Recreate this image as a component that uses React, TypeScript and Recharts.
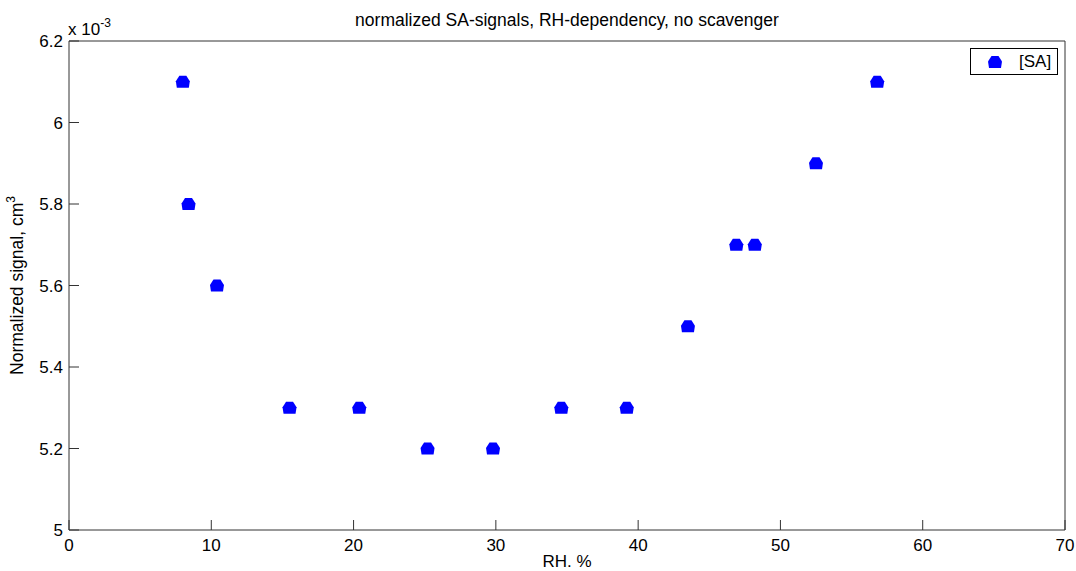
import { ScatterChart, Scatter, XAxis, YAxis, Legend } from "recharts";

const rh = [8.0, 8.4, 10.4, 15.5, 20.4, 25.2, 29.8, 34.6, 39.2, 43.5, 46.9, 48.2, 52.5, 56.8];
const signal = [6.1, 5.8, 5.6, 5.3, 5.3, 5.2, 5.2, 5.3, 5.3, 5.5, 5.7, 5.7, 5.9, 6.1];
const xTicks = [0, 10, 20, 30, 40, 50, 60, 70];
const yTicks = [5, 5.2, 5.4, 5.6, 5.8, 6, 6.2];

const data = rh.map((x, i) => ({ rh: x, sa: signal[i] }));

const FONT = "'Liberation Sans', Arial, sans-serif";
const AXIS = "#333";
const M = 8; // tick margin
const T = 10; // inward tick length

const BottomTick = ({ x, y, payload }: any) => (
  <g>
    <line x1={x} x2={x} y1={y - M} y2={y - M - T} stroke={AXIS} />
    <text x={x} y={y} dy="0.75em" textAnchor="middle" fontSize={17} fontFamily={FONT} fill="#000">
      {payload.value}
    </text>
  </g>
);

const LeftTick = ({ x, y, payload }: any) => (
  <g>
    <line x1={x + M} x2={x + M + T} y1={y} y2={y} stroke={AXIS} />
    <text x={x + 2} y={y} dy="0.36em" textAnchor="end" fontSize={17} fontFamily={FONT} fill="#000">
      {payload.value}
    </text>
  </g>
);

const TopTick = ({ x, y }: any) => (
  <line x1={x} x2={x} y1={y + M} y2={y + M + T} stroke={AXIS} />
);

const RightTick = ({ x, y }: any) => (
  <line x1={x - M} x2={x - M - T} y1={y} y2={y} stroke={AXIS} />
);

const Marker = ({ cx, cy }: any) => (
  <polygon
    points={`${cx - 3.5},${cy - 6} ${cx + 3.5},${cy - 6} ${cx + 7},${cy - 0.5} ${cx + 6},${cy + 6} ${cx - 6},${cy + 6} ${cx - 7},${cy - 0.5}`}
    fill="#0000ff"
  />
);

const YLabel = ({ viewBox }: any) => {
  const cy = viewBox.y + viewBox.height / 2;
  const cx = 23;
  return (
    <text
      x={cx}
      y={cy}
      transform={`rotate(-90 ${cx} ${cy})`}
      textAnchor="middle"
      fontSize={17.5}
      fontFamily={FONT}
      fill="#000"
    >
      Normalized signal, cm
      <tspan dy={-8} fontSize={12}>3</tspan>
    </text>
  );
};

const LegendBox = () => (
  <div
    style={{
      border: "1px solid #000",
      background: "#fff",
      height: 27,
      width: 88,
      boxSizing: "border-box",
      display: "flex",
      alignItems: "center",
      fontFamily: FONT,
      fontSize: 17,
    }}
  >
    <svg width={48} height={24}>
      <Marker cx={24} cy={12} />
    </svg>
    <span>[SA]</span>
  </div>
);

export default function App() {
  return (
    <div style={{ position: "absolute", left: 0, top: 0, width: 1076, height: 571, background: "#fff" }}>
      <ScatterChart width={1076} height={571} margin={{ top: 0, right: 0, bottom: 0, left: 0 }}>
        <XAxis
          xAxisId="b"
          type="number"
          dataKey="rh"
          domain={[0, 70]}
          ticks={xTicks}
          orientation="bottom"
          height={41}
          tickSize={0}
          tickMargin={M}
          tickLine={false}
          tick={<BottomTick />}
          stroke={AXIS}
          interval={0}
          label={{ value: "RH. %", position: "insideBottom", offset: 4, fontSize: 17, fontFamily: FONT, fill: "#000" }}
        />
        <XAxis
          xAxisId="t"
          type="number"
          dataKey="rh"
          domain={[0, 70]}
          ticks={xTicks}
          orientation="top"
          height={41}
          tickSize={0}
          tickMargin={M}
          tickLine={false}
          tick={<TopTick />}
          stroke={AXIS}
          interval={0}
        />
        <YAxis
          yAxisId="l"
          type="number"
          dataKey="sa"
          domain={[5, 6.2]}
          ticks={yTicks}
          orientation="left"
          width={69}
          tickSize={0}
          tickMargin={M}
          tickLine={false}
          tick={<LeftTick />}
          stroke={AXIS}
          interval={0}
          label={<YLabel />}
        />
        <YAxis
          yAxisId="r"
          type="number"
          dataKey="sa"
          domain={[5, 6.2]}
          ticks={yTicks}
          orientation="right"
          width={11}
          tickSize={0}
          tickMargin={M}
          tickLine={false}
          tick={<RightTick />}
          stroke={AXIS}
          interval={0}
        />
        <Legend
          layout="horizontal"
          verticalAlign="middle"
          content={<LegendBox />}
          wrapperStyle={{ top: 48, left: 970, width: 88 }}
        />
        <Scatter
          name="[SA]"
          data={data}
          xAxisId="b"
          yAxisId="l"
          shape={<Marker />}
          isAnimationActive={false}
        />
      </ScatterChart>
      <div
        style={{
          position: "absolute",
          left: 69,
          width: 996,
          top: 10,
          textAlign: "center",
          fontFamily: FONT,
          fontSize: 17.5,
        }}
      >
        normalized SA-signals, RH-dependency, no scavenger
      </div>
      <div style={{ position: "absolute", left: 68, top: 16, fontFamily: FONT, fontSize: 17 }}>
        x 10<sup style={{ fontSize: 12, verticalAlign: 8 }}>-3</sup>
      </div>
    </div>
  );
}
